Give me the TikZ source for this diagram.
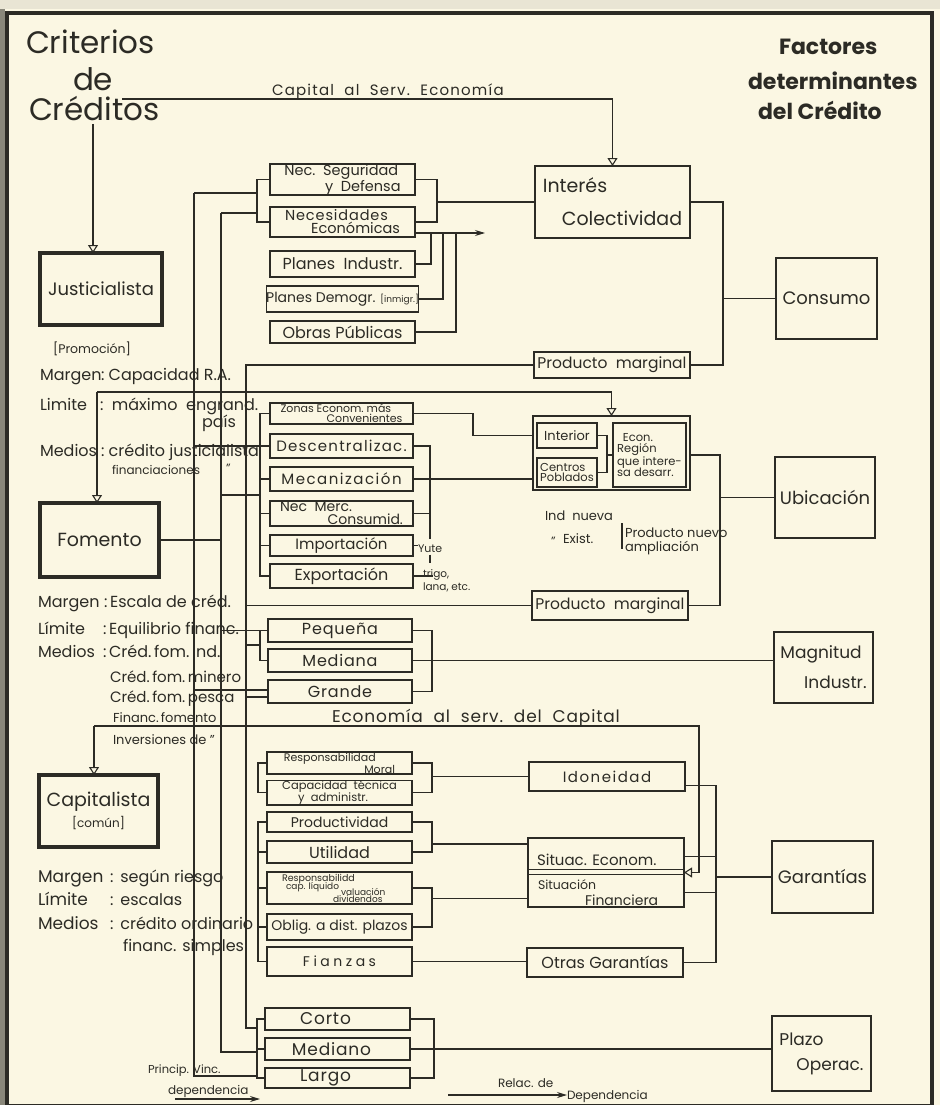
\documentclass[tikz,border=0pt]{standalone}
\usepackage{fontspec}
\setmainfont{Poppins}
\usetikzlibrary{arrows.meta,calc}
\definecolor{paper}{HTML}{FBF7E3}
\definecolor{ink}{HTML}{2C2B25}
\newcommand\fz[2]{\fontsize{#1}{#2}\selectfont}
\newcommand\lsp[1]{\addfontfeature{LetterSpace=#1}}
\newcommand\mybox[7][]{\node[bx,#1,minimum width={(#5)-(#3)},minimum height={(#6)-(#4)}] (#2) at ({((#3)+(#5))/2},{((#4)+(#6))/2}) {#7};}
\begin{document}
\begin{tikzpicture}[x=1pt,y=-1pt,color=ink,line width=1.1pt,
 bx/.style={draw=ink,rectangle,inner sep=0pt,outer sep=0pt,line width=1.3pt,align=left,font=\fz{14}{15}},
 thk/.style={line width=3.6pt},
 mid/.style={line width=2.2pt},
 arr/.style={-{Triangle[open,length=8pt,width=10pt]}},
 sarr/.style={-{Stealth[length=10pt,width=6pt]}},
 txt/.style={inner sep=0pt,outer sep=0pt,anchor=base west,font=\fz{16}{17}}]
\useasboundingbox (0,0) rectangle (940,1105);
\fill[paper] (0,0) rectangle (940,1105);
\fill[ink!55!paper] (0,0) rectangle (5,1105);
\fill[paper!85!gray] (0,0) rectangle (940,9);
\draw[line width=4.5pt] (7,13) rectangle (932,1106);
% titles
\node[txt,font=\fz{31}{31}] (t1) at (26,54) {Criterios};
\node[txt,font=\fz{31}{31}] (t2) at (73,91) {de};
\node[txt,font=\fz{31}{31}] (t3) at (29,121) {Créditos};
\node[txt,font=\fz{22}{22}\bfseries] (t4) at (779,55) {Factores};
\node[txt,font=\fz{22}{22}\bfseries] (t5) at (748,90) {determinantes};
\node[txt,font=\fz{22}{22}\bfseries] (t6) at (758,120) {del Crédito};
% main boxes
\mybox[thk,align=center,font=\fz{18}{20}]{jus}{40}{253}{162}{325}{Justicialista}
\mybox[thk,align=center,font=\fz{19}{20}]{fom}{40}{503}{159}{577}{Fomento}
\mybox[thk,align=center,font=\fz{19}{20}]{cpt}{39}{775}{158}{847}{Capitalista\\[1pt]{\fz{12}{12}[común]}}
\mybox[mid,font=\fz{18}{20}]{con}{776}{258}{877}{339}{Consumo}
\mybox[mid,font=\fz{18}{20}]{ubi}{775}{457}{875}{538}{Ubicación}
\mybox[mid,font=\fz{17}{30}]{mag}{774}{632}{873}{703}{Magnitud\\\hspace*{1.4em}Industr.}
\mybox[mid,font=\fz{18}{20}]{gar}{772}{841}{873}{913}{Garantías}
\mybox[mid,font=\fz{17}{25}]{pla}{772}{1016}{871}{1091}{Plazo\\\hspace*{1em}Operac.}
\mybox[line width=2.6pt,font=\fz{19}{33}]{int}{535}{166}{690}{238}{Interés\\\hspace*{1em}Colectividad}
% group 1
\mybox[font=\fz{14.5}{13}]{nsd}{270}{164}{415}{195}{Nec.\ \ Seguridad\\\hspace*{2.8em}y\ \ Defensa}
\mybox[font=\fz{14.5}{13}]{nec}{270}{207}{415}{237}{{\lsp{6}Necesidades}\\\hspace*{1.8em}Económicas}
\mybox[font=\fz{16}{16}]{pli}{270}{251}{415}{277}{Planes\ \ Industr.}
\mybox[font=\fz{14}{14}]{pld}{270}{286}{415}{312}{Planes Demogr. {\fz{9}{9}[inmigr.]}}
\mybox[font=\fz{16}{16}]{obr}{270}{321}{415}{343}{Obras\ Públicas}
\mybox[font=\fz{15.5}{15}]{pm1}{534}{352}{690}{378}{Producto\ \ marginal}
\mybox[font=\fz{15.5}{15}]{pm2}{532}{591}{688}{620}{Producto\ \ marginal}
% group 2
\mybox[font=\fz{11}{10}]{zon}{270}{403}{413}{424}{Zonas\ Econom.\ más\\\hspace*{4.2em}Convenientes}
\mybox[font=\fz{15}{15}]{des}{270}{434}{413}{458}{{\lsp{8}Descentralizac.}}
\mybox[font=\fz{15}{15}]{mec}{270}{467}{413}{491}{{\lsp{10}Mecanización}}
\mybox[font=\fz{14}{13}]{ncm}{270}{501}{413}{526}{Nec\ \ Merc.\\\hspace*{3.4em}Consumid.}
\mybox[font=\fz{15}{15}]{imp}{270}{535}{413}{556}{Importación}
\mybox[font=\fz{16}{16}]{exp}{270}{564}{413}{588}{Exportación}
\mybox[line width=1.5pt]{reg}{533}{416}{690}{490}{}
\mybox[font=\fz{13}{13}]{inr}{537}{423}{597}{448}{Interior}
\mybox[font=\fz{11.5}{10.5}]{cen}{537}{458}{597}{487}{Centros\\Poblados}
\mybox[font=\fz{11.5}{11.5}]{eco}{613}{423}{686}{487}{\hspace*{0.5em}Econ.\\Región\\que intere-\\sa desarr.}
\node[txt,font=\fz{11}{11}] (yute) at (418,552) {Yute};
\node[txt,font=\fz{10.5}{10.5}] (trigo) at (423,577) {trigo,};
\node[txt,font=\fz{10.5}{10.5}] (lana) at (423,590) {lana, etc.};
% group 3
\mybox[font=\fz{16}{16}]{peq}{268}{619}{412}{642}{{\lsp{5}Pequeña}}
\mybox[font=\fz{16}{16}]{med}{268}{649}{412}{672}{{\lsp{5}Mediana}}
\mybox[font=\fz{16}{16}]{gra}{268}{680}{412}{703}{{\lsp{5}Grande}}
% group 4
\mybox[font=\fz{11}{9.5}]{rm}{267}{752}{412}{774}{Responsabilidad\\\hspace*{7.3em}Moral}
\mybox[font=\fz{11.5}{9.5}]{cpc}{267}{782}{412}{803}{Capacidad\ \ técnica\\\hspace*{1.4em}y\ \ administr.}
\mybox[font=\fz{14}{14}]{pro}{267}{812}{412}{832}{Productividad}
\mybox[font=\fz{16}{16}]{uti}{267}{841}{412}{863}{Utilidad}
\mybox{rsp}{267}{872}{412}{904}{}
\node[txt,font=\fz{9.5}{9.5}] (rs1) at (282,881) {Responsabilidd};
\node[txt,font=\fz{9}{9}] (rs2) at (286,889) {cap. líquido};
\node[txt,font=\fz{9}{9}] (rs3) at (341,895) {valuación};
\node[txt,font=\fz{9}{9}] (rs4) at (333,902.5) {dividendos};
\mybox[font=\fz{14}{14}]{obl}{267}{914}{412}{940}{Oblig. a dist. plazos}
\mybox[font=\fz{14}{14}]{fia}{267}{947}{412}{976}{{\lsp{25}Fianzas}}
\mybox[font=\fz{15}{15}]{ido}{529}{762}{685}{791}{{\lsp{10}Idoneidad}}
\mybox[mid]{sit}{528}{838}{684}{907}{}
\node[txt,font=\fz{15}{15}] (sit1) at (537,865) {Situac. Econom.};
\node[txt,font=\fz{12.5}{12}] (sit2) at (538,889) {Situación};
\node[txt,font=\fz{14}{14}] (sit3) at (585,905) {Financiera};
\mybox[font=\fz{16}{16}]{otr}{527}{948}{683}{977}{Otras Garantías}
% group 5
\mybox[font=\fz{17}{17}]{cor}{265}{1008}{410}{1030}{{\lsp{5}Corto}\hspace*{24pt}}
\mybox[font=\fz{17}{17}]{mdo}{265}{1038}{410}{1060}{{\lsp{5}Mediano}\hspace*{12pt}}
\mybox[font=\fz{17}{17}]{lar}{265}{1068}{410}{1088}{{\lsp{5}Largo}\hspace*{24pt}}
% left texts
\node[txt,font=\fz{12.5}{12}] at (53,353) {[Promoción]};
\node[txt] at (40,380) {Margen}; \node[txt] at (101,380) {:\ Capacidad R.A.};
\node[txt] at (40,410) {Limite}; \node[txt] at (100,410) {:\ \ máximo\ \ engrand.};
\node[txt] at (202,427) {país};
\node[txt] at (40,456) {Medios}; \node[txt] at (101,456) {:\ crédito justicialista};
\node[txt,font=\fz{12}{12}] at (112,474) {financiaciones};
\node[txt,font=\fz{12}{12}] at (226,472) {''};
\node[txt] at (38,607) {Margen}; \node[txt] at (104,607) {:\,Escala de créd.};
\node[txt] at (38,634) {Límite}; \node[txt] at (103,634) {:\,Equilibrio financ.};
\node[txt] at (38,657) {Medios}; \node[txt] at (103,657) {:\,Créd.\,fom.\,ind.};
\node[txt,font=\fz{15}{15}] at (110,682) {Créd.\,fom.\,minero};
\node[txt,font=\fz{15}{15}] at (110,702) {Créd.\,fom.\,pesca};
\node[txt,font=\fz{13}{13}] at (113,722) {Financ.\,fomento};
\node[txt,font=\fz{13}{13}] at (113,744) {Inversiones de ''};
\node[txt,font=\fz{17}{17}] at (38,882) {Margen}; \node[txt,font=\fz{16}{16}] at (110,882) {:\ \,según riesgo};
\node[txt,font=\fz{17}{17}] at (38,905) {Límite}; \node[txt,font=\fz{16}{16}] at (110,905) {:\ \,escalas};
\node[txt,font=\fz{17}{17}] at (38,929) {Medios}; \node[txt,font=\fz{16}{16}] at (110,929) {:\ \,crédito ordinario};
\node[txt,font=\fz{16}{16}] at (123,951) {financ. simples};
% other texts
\node[txt,font=\fz{15}{15}] at (272,96) {{\lsp{8}Capital\ \ al\ \ Serv.\ \ Economía}};
\node[txt,font=\fz{17}{17}] at (332,722) {{\lsp{5}Economía\ \ al\ \ serv.\ \ del\ \ Capital}};
\node[txt,font=\fz{13}{13}] at (545,520) {Ind\ \ nueva};
\node[txt,font=\fz{12}{12}] at (551,545) {''};
\node[txt,font=\fz{13}{13}] at (563,543) {Exist.};
\node[txt,font=\fz{13}{13}] at (625,537) {Producto nuevo};
\node[txt,font=\fz{13}{13}] at (625,551) {ampliación};
\draw (622,523) -- (622,549);
\node[txt,font=\fz{11.5}{11}] at (148,1073) {Princip. Vinc.};
\node[txt,font=\fz{12}{12}] at (168,1094) {dependencia};
\node[txt,font=\fz{12}{12}] at (498,1087) {Relac. de};
\node[txt,font=\fz{12}{12}] (dep) at (567,1099) {Dependencia};
% coordinates
\coordinate (s1t) at (194,193); \coordinate (s1b) at (194,1076);
\coordinate (s2t) at (221,213); \coordinate (s2b) at (221,1052);
\coordinate (s3b) at (246,1028);
\coordinate (cap0) at (122,99);
\coordinate (cr0) at (93,124);
\coordinate (f0) at (97,392);
\coordinate (c0) at (94,726);
\coordinate (c1) at (699,726);
\coordinate (na) at (415,233);
\coordinate (cbr) at (723,298.5);
\coordinate (ubr) at (720,497.5);
\coordinate (gbr) at (716,877);
\coordinate (j2a) at (221,495);
\coordinate (j3c) at (246,645);
\coordinate (j1g) at (194,690);
\coordinate (j3g) at (246,697);
\coordinate (lg1) at (175,1099);
\coordinate (lg2) at (448,1095);
% arrows from criteria
\draw[arr] (cap0) -| (int.north);
\draw[arr] (cr0) -- (cr0 |- jus.north);
\draw[arr] (f0) -- (f0 |- fom.north);
\draw[arr] (f0) -| (reg.north);
\draw[arr] (c0) -- (c0 |- cpt.north);
\draw[arr] (c0) -- (c1) |- (sit.east);
% spines
\draw (s1t) -- (s1b) -- ++(63,0);
\draw (s1t) -- ++(63,0);
\draw (s2t) -- (s2b) -- ++(36,0);
\draw (s2t) -- ++(36,0);
\draw (pm1.west) -| (s3b) -- ++(11,0);
\draw (fom.east) -- (fom.east -| s2t);
\draw (pm2.west) -- (pm2.west -| s3b);
% group 1 connectors
\draw (nsd.west) -- ++(-13,0) |- (nec.west);
\draw (nsd.east) -- ++(22,0) |- (nec.east);
\draw (int.west) -- ++(-98,0);
\draw[sarr] (na) -- ++(70,0);
\draw (pli.east) -| ($(na)+(16,0)$);
\draw (pld.east) -| ($(na)+(28,0)$);
\draw (obr.east) -| ($(na)+(41,0)$);
\draw (int.east) -| (cbr) |- (pm1.east);
\draw (cbr) -- (con.west);
% group 2 connectors
\draw (zon.west) -- ++(-10,0) |- (exp.west);
\foreach \n in {des,mec,ncm,imp} \draw (\n.west) -- ++(-10,0);
\draw (s1t |- des.west) -- ++(66,0);
\draw (j2a) -- ++(39,0);
\draw (des.east) -- ++(17,0) |- ($(imp.east)+(17,-7)$);
\draw (ncm.east) -- ++(17,0);
\draw (mec.east) -- (mec.east -| reg.west);
\draw (imp.east) -- ++(5,0);
\draw ($(imp.east)+(17,9)$) -- ++(0,8);
\draw (exp.east) -- ++(20,0);
\draw (zon.east) -- ++(60,0) |- (reg.west |- inr.west);
\draw (inr.east) -- ++(10,0) |- (cen.east);
\draw (eco.west) -- ++(-6,0);
\draw (eco.east -| reg.east) -| (ubr) |- (pm2.east);
\draw (ubr) -- (ubi.west);
% group 3 connectors
\draw (peq.west) -- ++(-8,0) |- (med.west);
\draw (s2t |- peq.west) -- ++(39,0);
\draw (j3c) -- ++(14,0);
\draw (j1g) -- (j1g -| gra.west);
\draw (j3g) -- (j3g -| gra.west);
\draw (peq.east) -- ++(20,0) |- (gra.east);
\draw (med.east) -- (med.east -| mag.west);
% group 4 connectors
\draw (rm.west) -- ++(-9,0) |- (cpc.west);
\draw (pro.west) -- ++(-9,0) |- (fia.west);
\foreach \n in {uti,rsp,obl} \draw (\n.west) -- ++(-9,0);
\draw (rm.east) -- ++(20,0) |- (cpc.east);
\draw (ido.west) -- ++(-97,0);
\draw (pro.east) -- ++(20,0) |- (uti.east);
\draw ($(sit.west)+(0,-28.5)$) -- ++(-96,0);
\draw (rsp.east) -- ++(20,0) |- (obl.east);
\draw ($(sit.west)+(0,26)$) -- ++(-96,0);
\draw (fia.east) -- (fia.east -| otr.west);
\draw ($(sit.west)+(0,-3)$) -- ($(sit.east)+(0,-3)$);
\draw ($(sit.west)+(0,2)$) -- ($(sit.east)+(0,2)$);
\draw ($(ido.east)+(0,9)$) -| (gbr) |- (otr.east);
\draw ($(sit.east)+(0,-16)$) -- ++(32,0);
\draw ($(sit.east)+(0,20)$) -- ++(32,0);
\draw (gbr) -- (gar.west);
% group 5 connectors
\draw (cor.west) -- ++(-8,0) |- (lar.west);
\draw (mdo.west) -- ++(-8,0);
\draw (cor.east) -- ++(24,0) |- (lar.east);
\draw (mdo.east) -- (mdo.east -| pla.west);
% legends
\draw[sarr] (lg1) -- ++(85,0);
\draw[sarr] (lg2) -- (lg2 -| dep.west);
\end{tikzpicture}
\end{document}
